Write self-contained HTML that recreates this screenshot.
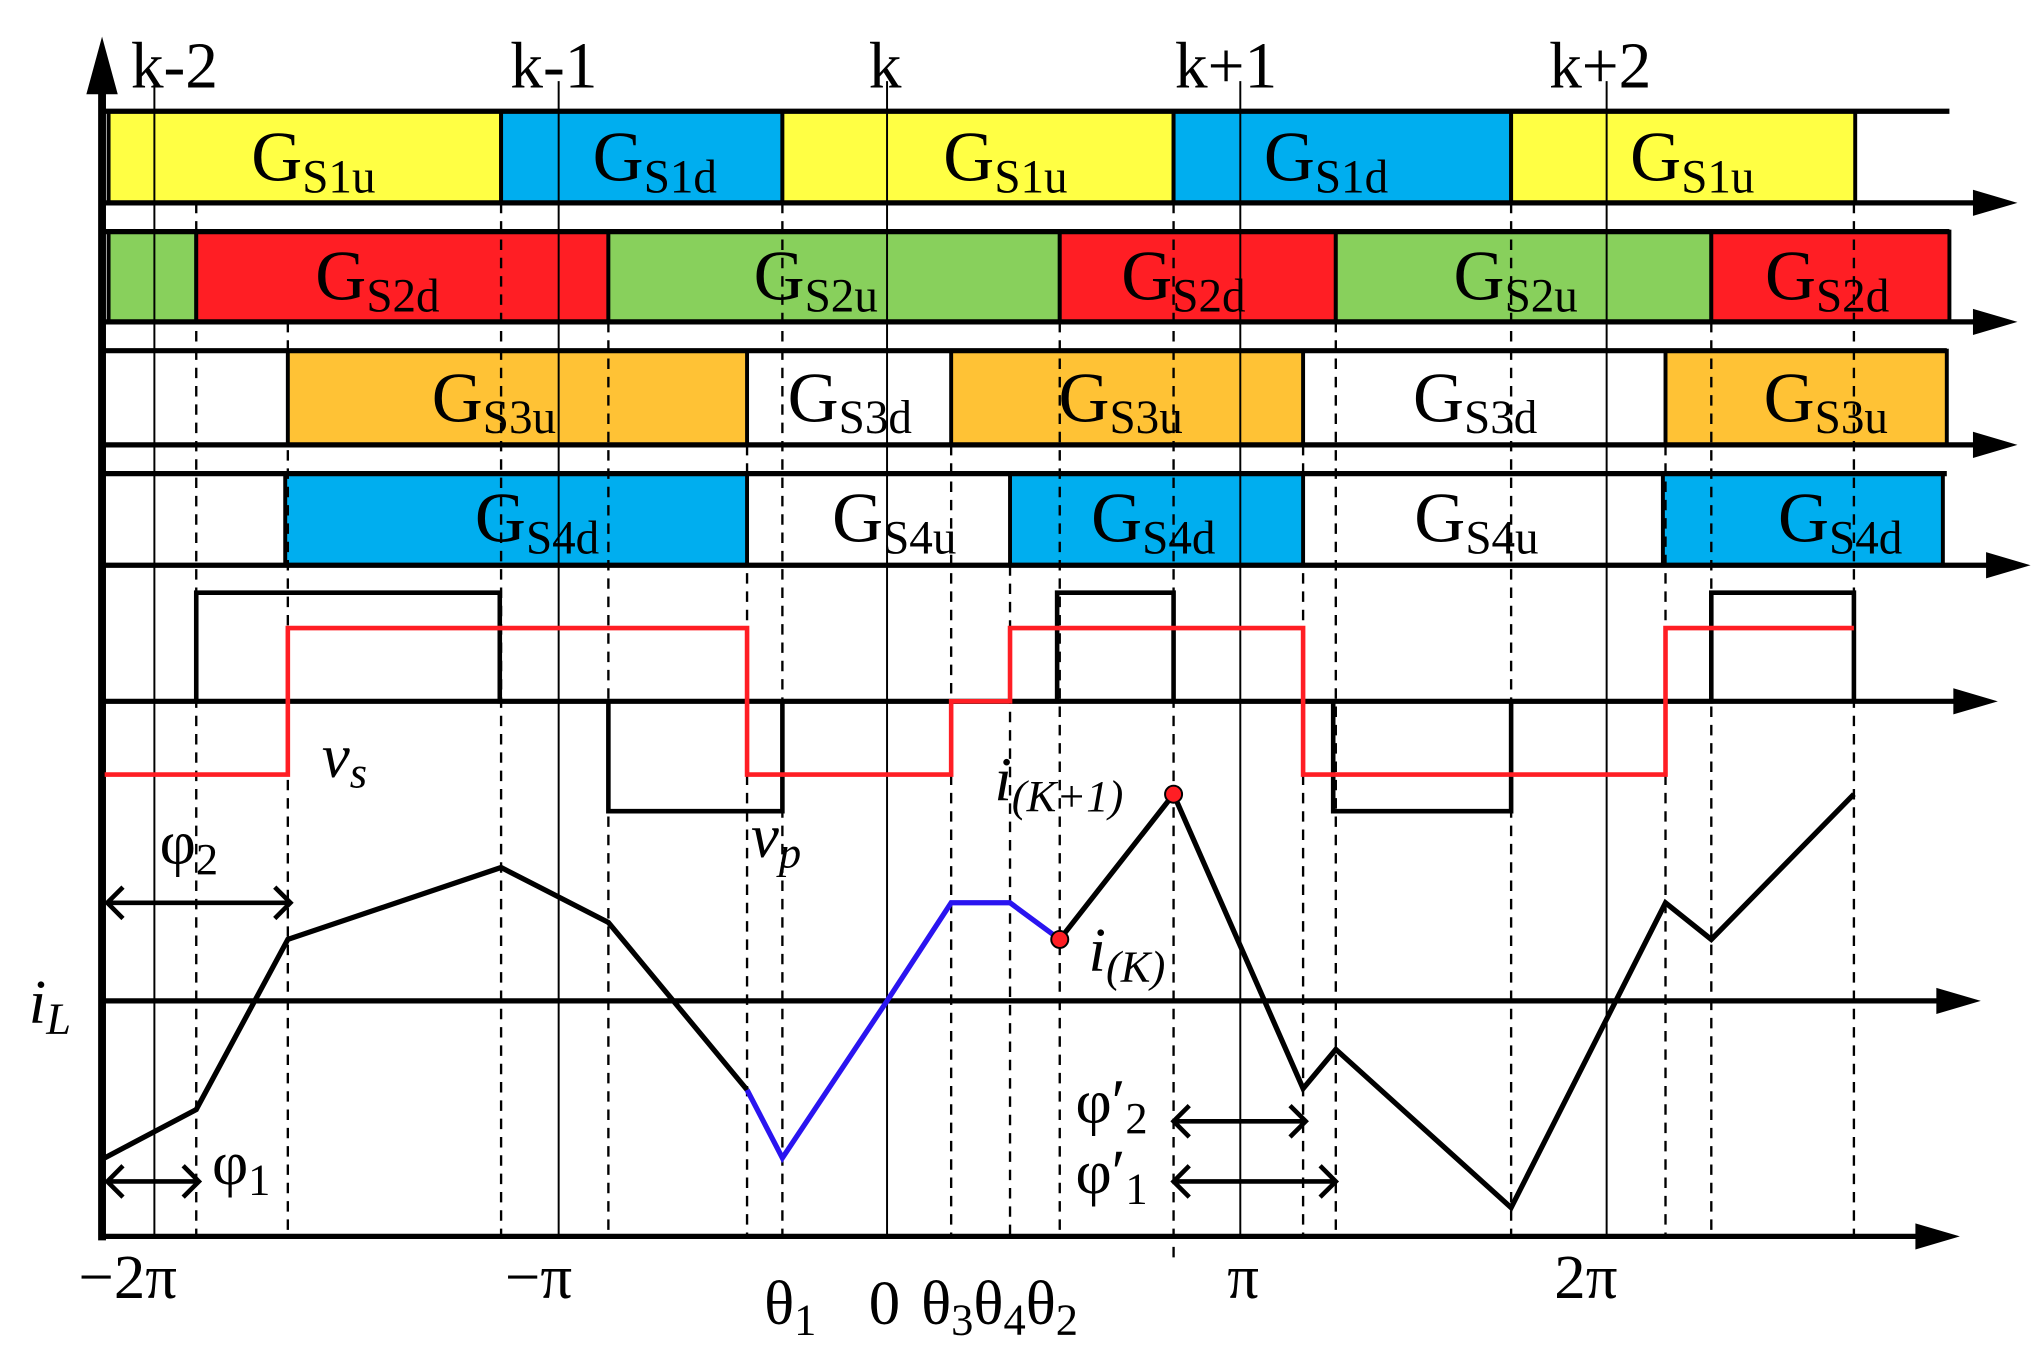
<!DOCTYPE html>
<html><head><meta charset="utf-8"><style>html,body{margin:0;padding:0;background:#fff}svg{display:block}</style></head><body>
<svg width="2041" height="1366" viewBox="0 0 1560 1044" xmlns="http://www.w3.org/2000/svg" font-family="Liberation Serif, serif">
<!-- bar fills -->
<g stroke="#000" stroke-width="3">
<rect x="83" y="85" width="300" height="70" fill="#ffff44"/>
<rect x="383" y="85" width="215" height="70" fill="#00aeef"/>
<rect x="598" y="85" width="299" height="70" fill="#ffff44"/>
<rect x="897" y="85" width="258" height="70" fill="#00aeef"/>
<rect x="1155" y="85" width="263" height="70" fill="#ffff44"/>
<rect x="83" y="177" width="67" height="69" fill="#88d05c"/>
<rect x="150" y="177" width="315" height="69" fill="#ff1e24"/>
<rect x="465" y="177" width="345" height="69" fill="#88d05c"/>
<rect x="810" y="177" width="211" height="69" fill="#ff1e24"/>
<rect x="1021" y="177" width="287" height="69" fill="#88d05c"/>
<rect x="1308" y="177" width="182" height="69" fill="#ff1e24"/>
<rect x="220" y="268" width="351" height="72" fill="#ffc235"/>
<rect x="727" y="268" width="269" height="72" fill="#ffc235"/>
<rect x="1273" y="268" width="215" height="72" fill="#ffc235"/>
<rect x="218" y="362" width="353" height="70" fill="#00aeef"/>
<rect x="772" y="362" width="224" height="70" fill="#00aeef"/>
<rect x="1271" y="362" width="214" height="70" fill="#00aeef"/>
</g>
<g stroke="#000" stroke-width="4" fill="none">
<line x1="80" y1="85" x2="1490" y2="85"/>
<line x1="80" y1="177" x2="1490" y2="177"/>
<line x1="80" y1="268" x2="1488" y2="268"/>
<line x1="80" y1="362" x2="1488" y2="362"/>
<line x1="80" y1="155" x2="1512" y2="155"/>
<line x1="80" y1="246" x2="1512" y2="246"/>
<line x1="80" y1="340" x2="1512" y2="340"/>
<line x1="80" y1="432" x2="1522" y2="432"/>
<line x1="80" y1="536" x2="1497" y2="536"/>
<line x1="80" y1="765" x2="1484" y2="765"/>
<line x1="80" y1="945" x2="1468" y2="945"/>
<line x1="78" y1="948" x2="78" y2="60" stroke-width="6"/>
</g>
<g fill="#000">
<polygon points="1508,145 1542,155 1508,165"/>
<polygon points="1508,236 1542,246 1508,256"/>
<polygon points="1508,330 1542,340 1508,350"/>
<polygon points="1518,422 1552,432 1518,442"/>
<polygon points="1493,526 1527,536 1493,546"/>
<polygon points="1480,755 1514,765 1480,775"/>
<polygon points="1464,935 1498,945 1464,955"/>
<polygon points="66,72 78,28 90,72"/>
</g>
<!-- solid verticals -->
<g stroke="#000" stroke-width="1.5">
<line x1="118" y1="62" x2="118" y2="945"/><line x1="427" y1="62" x2="427" y2="945"/><line x1="678" y1="62" x2="678" y2="945"/><line x1="948" y1="62" x2="948" y2="945"/><line x1="1228" y1="62" x2="1228" y2="945"/>
</g>
<g stroke="#000" stroke-width="1.8" stroke-dasharray="8,6">
<line x1="150" y1="155" x2="150" y2="945"/><line x1="220" y1="246" x2="220" y2="945"/><line x1="383" y1="155" x2="383" y2="945"/><line x1="465" y1="246" x2="465" y2="945"/><line x1="571" y1="340" x2="571" y2="945"/><line x1="598" y1="155" x2="598" y2="945"/><line x1="727" y1="340" x2="727" y2="945"/><line x1="772" y1="432" x2="772" y2="945"/><line x1="810" y1="246" x2="810" y2="945"/><line x1="897" y1="155" x2="897" y2="965"/><line x1="996" y1="340" x2="996" y2="945"/><line x1="1021" y1="246" x2="1021" y2="945"/><line x1="1155" y1="155" x2="1155" y2="945"/><line x1="1273" y1="340" x2="1273" y2="945"/><line x1="1308" y1="246" x2="1308" y2="945"/><line x1="1417" y1="155" x2="1417" y2="945"/>
</g>
<!-- vp -->
<path d="M80,536 H150 V453 H382 V536 H465 V620 H598 V536 H808 V453 H897 V536 H1019 V620 H1155 V536 H1308 V453 H1417 V536" fill="none" stroke="#000" stroke-width="3.5"/>
<path d="M80,592 H220 V480 H571 V592 H727 V536 H772 V480 H996 V592 H1273 V480 H1417" fill="none" stroke="#ff1e24" stroke-width="3.5"/>
<!-- iL -->
<polyline points="80,885 150,848 220,718 383,663 465,705 571,833" fill="none" stroke="#000" stroke-width="4"/>
<polyline points="571,833 598,885 678,765 727,690 772,690 810,718" fill="none" stroke="#2a14f0" stroke-width="4"/>
<polyline points="810,718 897,607 996,832 1021,802 1155,923 1273,690 1308,718 1417,607" fill="none" stroke="#000" stroke-width="4"/>
<circle cx="897" cy="607" r="6.5" fill="#ff1e24" stroke="#000" stroke-width="1.5"/>
<circle cx="810" cy="718" r="6.5" fill="#ff1e24" stroke="#000" stroke-width="1.5"/>
<!-- phase arrows -->
<g stroke="#000" stroke-width="3.5" fill="none">
<line x1="82" y1="690" x2="222" y2="690"/><path d="M94,678 L82,690 L94,702 M210,678 L222,690 L210,702"/>
<line x1="82" y1="903" x2="152" y2="903"/><path d="M94,891 L82,903 L94,915 M140,891 L152,903 L140,915"/>
<line x1="897" y1="857" x2="998" y2="857"/><path d="M909,845 L897,857 L909,869 M986,845 L998,857 L986,869"/>
<line x1="897" y1="903" x2="1021" y2="903"/><path d="M909,891 L897,903 L909,915 M1009,891 L1021,903 L1009,915"/>
</g>
<!-- labels -->
<g font-size="50" fill="#000">
<text x="100" y="67">k-2</text><text x="390" y="67">k-1</text><text x="664" y="67">k</text><text x="898" y="67">k+1</text><text x="1184" y="67">k+2</text>
</g>
<g font-size="54" fill="#000">
<text x="192" y="138">G<tspan font-size="36" dy="9">S1u</tspan></text>
<text x="453" y="138">G<tspan font-size="36" dy="9">S1d</tspan></text>
<text x="721" y="138">G<tspan font-size="36" dy="9">S1u</tspan></text>
<text x="966" y="138">G<tspan font-size="36" dy="9">S1d</tspan></text>
<text x="1246" y="138">G<tspan font-size="36" dy="9">S1u</tspan></text>
<text x="241" y="229">G<tspan font-size="36" dy="9">S2d</tspan></text>
<text x="576" y="229">G<tspan font-size="36" dy="9">S2u</tspan></text>
<text x="857" y="229">G<tspan font-size="36" dy="9">S2d</tspan></text>
<text x="1111" y="229">G<tspan font-size="36" dy="9">S2u</tspan></text>
<text x="1349" y="229">G<tspan font-size="36" dy="9">S2d</tspan></text>
<text x="330" y="322">G<tspan font-size="36" dy="9">S3u</tspan></text>
<text x="602" y="322">G<tspan font-size="36" dy="9">S3d</tspan></text>
<text x="809" y="322">G<tspan font-size="36" dy="9">S3u</tspan></text>
<text x="1080" y="322">G<tspan font-size="36" dy="9">S3d</tspan></text>
<text x="1348" y="322">G<tspan font-size="36" dy="9">S3u</tspan></text>
<text x="363" y="414">G<tspan font-size="36" dy="9">S4d</tspan></text>
<text x="636" y="414">G<tspan font-size="36" dy="9">S4u</tspan></text>
<text x="834" y="414">G<tspan font-size="36" dy="9">S4d</tspan></text>
<text x="1081" y="414">G<tspan font-size="36" dy="9">S4u</tspan></text>
<text x="1359" y="414">G<tspan font-size="36" dy="9">S4d</tspan></text>
</g>
<g font-size="48" fill="#000">
<text x="246" y="594" font-style="italic">v<tspan font-size="34" dy="8">s</tspan></text>
<text x="574" y="655" font-style="italic">v<tspan font-size="34" dy="8">p</tspan></text>
<text x="760" y="612" font-style="italic">i<tspan font-size="34" dy="8">(K+1)</tspan></text>
<text x="832" y="742" font-style="italic">i<tspan font-size="34" dy="8">(K)</tspan></text>
<text x="22" y="782" font-style="italic">i<tspan font-size="34" dy="8">L</tspan></text>
<text x="122" y="660">φ<tspan font-size="34" dy="8">2</tspan></text>
<text x="162" y="905">φ<tspan font-size="34" dy="8">1</tspan></text>
<text x="822" y="858">φ′<tspan font-size="34" dy="8">2</tspan></text>
<text x="822" y="912">φ′<tspan font-size="34" dy="8">1</tspan></text>
<text x="60" y="992">−2π</text>
<text x="386" y="992">−π</text>
<text x="584" y="1012">θ<tspan font-size="34" dy="8">1</tspan></text>
<text x="664" y="1012">0</text>
<text x="704" y="1012">θ<tspan font-size="34" dy="8">3</tspan><tspan dy="-8">θ</tspan><tspan font-size="34" dy="8">4</tspan><tspan dy="-8">θ</tspan><tspan font-size="34" dy="8">2</tspan></text>
<text x="938" y="992">π</text>
<text x="1188" y="992">2π</text>
</g>
</svg>
</body></html>
